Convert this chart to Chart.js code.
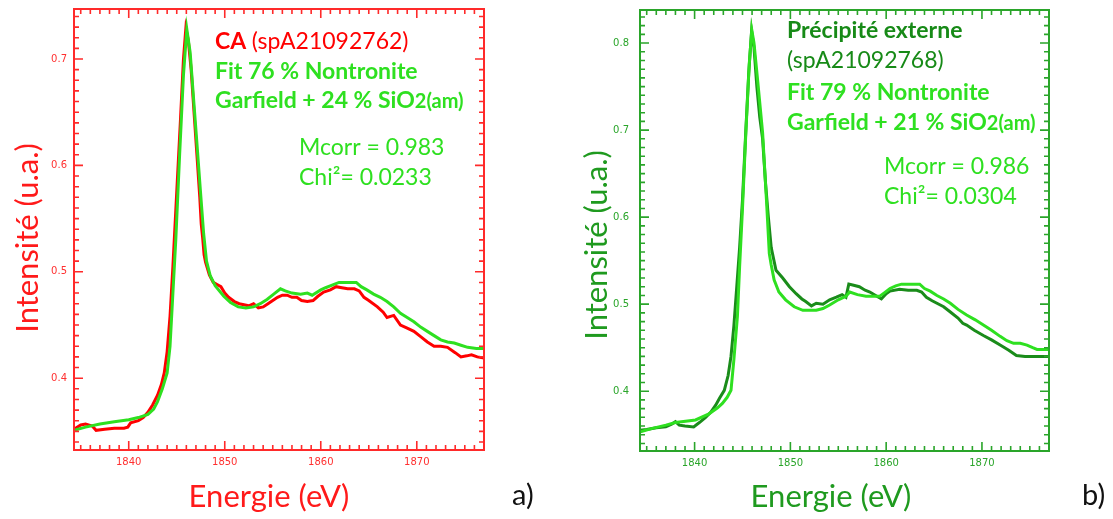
<!DOCTYPE html>
<html lang="fr">
<head>
<meta charset="UTF-8">
<title>Spectres S K-edge - CA et precipite externe</title>
<script src="https://cdn.jsdelivr.net/npm/chart.js@4.4.1/dist/chart.umd.min.js"></script>
<style>
  body { margin: 0; background: #fff; width: 1113px; height: 519px; position: relative; overflow: hidden; }
  canvas { position: absolute; top: 0; }
  #chartA { left: 0; }
  #chartB { left: 556px; }
  .tag { position: absolute; top: 476px; font: 29px Lato, sans-serif; color: #111; }
</style>
</head>
<body>
<canvas id="chartA" width="556" height="519"></canvas>
<canvas id="chartB" width="557" height="519"></canvas>
<div class="tag" style="left:512px">a)</div>
<div class="tag" style="left:1082px">b)</div>

<script>
// ---- data ----
// a) CA spA21092762 : measured spectrum
const caEnergy = [1834.3, 1835.0, 1835.5, 1836.2, 1836.6, 1837.5, 1838.5, 1839.5, 1839.9, 1840.2,
  1841.0, 1841.5, 1842.0, 1842.5, 1843.0, 1843.4, 1843.7, 1844.0, 1844.3, 1844.6,
  1845.0, 1845.4, 1845.7, 1845.95, 1846.2, 1846.5, 1846.8, 1847.1, 1847.4, 1847.55,
  1847.7, 1847.85, 1848.0, 1848.4, 1848.8, 1849.2, 1849.6, 1850.0, 1850.4, 1851.0, 1851.5,
  1852.0, 1852.5, 1853.0, 1853.5, 1854.0, 1854.5, 1855.0, 1855.5, 1856.0, 1856.5,
  1857.0, 1857.5, 1858.0, 1858.6, 1859.2, 1859.7, 1860.3, 1861.0, 1861.6, 1862.2,
  1862.8, 1863.5, 1864.0, 1864.5, 1865.0, 1865.9, 1866.5, 1866.9, 1867.6, 1868.3,
  1869.0, 1869.7, 1870.4, 1871.1, 1871.8, 1872.5, 1873.2, 1874.0, 1874.6, 1875.2,
  1875.7, 1876.3, 1877.0];
const caIntensity = [0.352, 0.356, 0.357, 0.355, 0.351, 0.352, 0.353, 0.353, 0.354, 0.358,
  0.360, 0.363, 0.368, 0.375, 0.384, 0.394, 0.405, 0.425, 0.458, 0.505,
  0.575, 0.645, 0.700, 0.729, 0.718, 0.690, 0.650, 0.610, 0.570, 0.545,
  0.532, 0.516, 0.509, 0.497, 0.490, 0.488, 0.486, 0.480, 0.476, 0.472, 0.470,
  0.469, 0.468, 0.470, 0.466, 0.467, 0.470, 0.473, 0.476, 0.478, 0.478,
  0.476, 0.476, 0.473, 0.472, 0.473, 0.477, 0.481, 0.483, 0.486, 0.485,
  0.484, 0.484, 0.482, 0.476, 0.473, 0.467, 0.462, 0.457, 0.459, 0.450,
  0.447, 0.444, 0.439, 0.434, 0.430, 0.430, 0.429, 0.424, 0.420, 0.421,
  0.422, 0.420, 0.419];

// a) fit 76 % nontronite Garfield + 24 % SiO2(am)
const caFitEnergy = [1834.3, 1835.5, 1837.0, 1838.5, 1840.0, 1841.0, 1842.0, 1842.6, 1843.0, 1843.5,
  1844.0, 1844.3, 1844.6, 1844.9, 1845.3, 1845.7, 1846.05, 1846.4, 1846.75, 1847.1,
  1847.45, 1847.8, 1848.1, 1848.5, 1849.0, 1849.9, 1850.6, 1851.4, 1852.2, 1853.0,
  1853.7, 1854.4, 1855.1, 1855.8, 1856.3, 1857.0, 1857.9, 1858.6, 1859.1, 1860.0,
  1860.5, 1861.05, 1861.9, 1862.8, 1863.7, 1864.2, 1864.8, 1865.5, 1866.2, 1866.9,
  1867.6, 1868.3, 1869.0, 1869.7, 1870.4, 1871.1, 1871.8, 1872.5, 1873.2, 1873.9,
  1874.6, 1875.3, 1876.2, 1877.0];
const caFitIntensity = [0.351, 0.354, 0.357, 0.359, 0.361, 0.363, 0.366, 0.371, 0.378, 0.390,
  0.405, 0.430, 0.480, 0.530, 0.610, 0.685, 0.728, 0.706, 0.663, 0.621,
  0.578, 0.536, 0.510, 0.496, 0.487, 0.477, 0.471, 0.467, 0.466, 0.467,
  0.470, 0.474, 0.479, 0.484, 0.482, 0.480, 0.479, 0.480, 0.478, 0.483,
  0.485, 0.487, 0.490, 0.490, 0.490, 0.486, 0.483, 0.479, 0.476, 0.472,
  0.467, 0.461, 0.457, 0.453, 0.448, 0.444, 0.440, 0.436, 0.434, 0.433,
  0.431, 0.429, 0.428, 0.428];

// b) Precipite externe spA21092768 : measured spectrum
const peEnergy = [1834.2, 1835.0, 1836.0, 1837.0, 1837.6, 1838.0, 1838.4, 1839.0, 1839.9, 1840.5,
  1841.15, 1841.7, 1842.2, 1842.6, 1843.1, 1843.5, 1843.8, 1844.1, 1844.4, 1844.7,
  1845.0, 1845.35, 1845.65, 1845.95, 1846.2, 1846.5, 1846.8, 1847.1, 1847.4, 1847.7,
  1848.0, 1848.5, 1849.2, 1849.9, 1850.6, 1851.2, 1851.6, 1852.2, 1852.7, 1853.4,
  1854.1, 1854.8, 1855.4, 1855.8, 1856.1, 1856.5, 1857.2, 1857.8, 1858.3, 1858.9,
  1859.5, 1860.0, 1860.4, 1861.4, 1862.3, 1863.2, 1863.7, 1864.2, 1864.8, 1865.3,
  1866.0, 1866.7, 1867.5, 1868.0, 1868.4, 1869.2, 1870.15, 1871.0, 1871.9, 1872.8,
  1873.6, 1874.5, 1875.5, 1877.0];
const peIntensity = [0.355, 0.356, 0.358, 0.359, 0.362, 0.365, 0.361, 0.360, 0.359, 0.364,
  0.370, 0.376, 0.384, 0.392, 0.401, 0.418, 0.440, 0.475, 0.520, 0.565,
  0.620, 0.700, 0.765, 0.814, 0.795, 0.750, 0.715, 0.690, 0.640, 0.600,
  0.565, 0.539, 0.530, 0.520, 0.512, 0.506, 0.503, 0.498, 0.501, 0.500,
  0.505, 0.508, 0.511, 0.508, 0.523, 0.522, 0.520, 0.516, 0.514, 0.510,
  0.506, 0.512, 0.515, 0.517, 0.516, 0.516, 0.514, 0.508, 0.504, 0.501,
  0.497, 0.491, 0.484, 0.478, 0.476, 0.470, 0.464, 0.459, 0.453, 0.447,
  0.441, 0.440, 0.440, 0.440];

// b) fit 79 % nontronite Garfield + 21 % SiO2(am)
const peFitEnergy = [1834.2, 1835.5, 1837.0, 1838.0, 1840.1, 1841.5, 1842.4, 1842.9, 1843.4, 1843.8,
  1844.1, 1844.47, 1844.7, 1845.0, 1845.35, 1845.7, 1845.97, 1846.2, 1846.6, 1847.1,
  1847.5, 1847.8, 1848.0, 1848.3, 1848.8, 1849.5, 1850.4, 1851.3, 1852.7, 1853.4,
  1854.1, 1855.0, 1855.8, 1856.2, 1857.0, 1857.9, 1859.3, 1859.8, 1860.4, 1861.0,
  1861.6, 1863.5, 1864.0, 1864.6, 1865.3, 1866.0, 1866.7, 1867.5, 1868.4, 1869.3,
  1870.15, 1871.0, 1871.9, 1872.6, 1873.3, 1874.0, 1874.7, 1875.3, 1875.75, 1877.0];
const peFitIntensity = [0.353, 0.357, 0.361, 0.364, 0.367, 0.374, 0.381, 0.386, 0.393, 0.401,
  0.436, 0.486, 0.543, 0.610, 0.697, 0.775, 0.815, 0.800, 0.755, 0.697,
  0.620, 0.558, 0.545, 0.528, 0.514, 0.505, 0.497, 0.493, 0.493, 0.495,
  0.499, 0.505, 0.509, 0.514, 0.511, 0.509, 0.509, 0.513, 0.518, 0.521,
  0.523, 0.523, 0.518, 0.515, 0.510, 0.506, 0.501, 0.494, 0.4875, 0.482,
  0.476, 0.470, 0.463, 0.458, 0.455, 0.455, 0.453, 0.450, 0.448, 0.448];

// axis ranges and tick labels
const energyRange = [1834.3, 1877.0];
const energyTicks = [1840, 1850, 1860, 1870];
const rangeA = [0.3325, 0.747];
const ticksA = [0.4, 0.5, 0.6, 0.7];
const rangeB = [0.3313, 0.838];
const ticksB = [0.4, 0.5, 0.6, 0.7, 0.8];

const RED = '#ff0000';
const LIME = '#2ee020';
const DARK = '#1a8c1a';

function points(xs, ys) {
  return xs.map((x, i) => ({x: x, y: ys[i]}));
}

// IDL style box: frame on all four sides, ticks pointing inwards
const idlFrame = {
  id: 'idlFrame',
  afterDraw(chart, args, opts) {
    const {ctx, chartArea: a, scales: {x, y}} = chart;
    ctx.save();
    ctx.strokeStyle = opts.color;
    ctx.lineWidth = 2;
    ctx.strokeRect(a.left, a.top, a.right - a.left, a.bottom - a.top);
    ctx.lineWidth = 1.6;
    ctx.beginPath();
    for (let v = Math.ceil(x.min); v <= x.max; v++) {
      const px = x.getPixelForValue(v);
      const len = v % 10 === 0 ? 9 : 5;
      ctx.moveTo(px, a.bottom); ctx.lineTo(px, a.bottom - len);
      ctx.moveTo(px, a.top); ctx.lineTo(px, a.top + len);
    }
    for (let k = Math.ceil(y.min * 100); k <= y.max * 100; k++) {
      const py = y.getPixelForValue(k / 100);
      const len = k % 10 === 0 ? 9 : 5;
      ctx.moveTo(a.left, py); ctx.lineTo(a.left + len, py);
      ctx.moveTo(a.right, py); ctx.lineTo(a.right - len, py);
    }
    ctx.stroke();
    ctx.restore();
  }
};

// annotation text + axis titles
function makeNotes(lines, titles) {
  return {
    id: 'notes',
    afterDraw(chart) {
      const ctx = chart.ctx;
      ctx.save();
      ctx.textBaseline = 'alphabetic';
      lines.forEach(l => {
        let cx = l.x;
        l.runs.forEach(r => {
          ctx.font = r.font;
          ctx.fillStyle = r.color;
          ctx.fillText(r.text, cx, l.y);
          cx += ctx.measureText(r.text).width;
        });
      });
      ctx.font = titles.font;
      ctx.fillStyle = titles.color;
      ctx.textAlign = 'center';
      ctx.textBaseline = 'middle';
      ctx.fillText(titles.x, titles.xPos[0], titles.xPos[1]);
      ctx.translate(titles.yPos[0], titles.yPos[1]);
      ctx.rotate(-Math.PI / 2);
      ctx.fillText(titles.y, 0, 0);
      ctx.restore();
    }
  };
}

// no extra room for the end labels: the box must sit exactly where the layout padding puts it
function noPad(s) {
  s.paddingTop = 0; s.paddingBottom = 0; s.paddingLeft = 0; s.paddingRight = 0;
}

function scalesFor(yRange, yTicks, color, yWidth, xHeight, yPad) {
  return {
    x: {
      type: 'linear', min: energyRange[0], max: energyRange[1],
      afterBuildTicks: s => { s.ticks = energyTicks.map(v => ({value: v})); },
      afterFit: s => { s.height = xHeight; noPad(s); },
      grid: {display: false, drawTicks: false}, border: {display: false},
      ticks: {color: color, padding: 6, maxRotation: 0, font: {family: 'DejaVu Sans', size: 10},
              callback: v => String(v)}
    },
    y: {
      type: 'linear', min: yRange[0], max: yRange[1],
      afterBuildTicks: s => { s.ticks = yTicks.map(v => ({value: v})); },
      afterFit: s => { s.width = yWidth; noPad(s); },
      grid: {display: false, drawTicks: false}, border: {display: false},
      ticks: {color: color, padding: yPad, font: {family: 'DejaVu Sans', size: 10},
              callback: v => v.toFixed(1)}
    }
  };
}

const B = 'bold 23px Lato, sans-serif';
const R = '23px Lato, sans-serif';
const S = 'bold 20px Lato, sans-serif';
const T = '31px Lato, sans-serif';

new Chart(document.getElementById('chartA'), {
  type: 'line',
  data: {
    datasets: [
      {label: 'Fit', data: points(caFitEnergy, caFitIntensity), borderColor: LIME, borderWidth: 3},
      {label: 'CA', data: points(caEnergy, caIntensity), borderColor: RED, borderWidth: 3}
    ]
  },
  options: {
    responsive: false, animation: false, events: [],
    elements: {point: {radius: 0}, line: {tension: 0}},
    layout: {padding: {left: 0, top: 9, right: 72, bottom: 0}},
    scales: scalesFor(rangeA, ticksA, '#ff3030', 74, 69, 7),
    plugins: {legend: {display: false}, tooltip: {enabled: false}, idlFrame: {color: '#ff2a2a'}}
  },
  plugins: [idlFrame, makeNotes([
    {x: 215, y: 49, runs: [{text: 'CA ', font: B, color: RED}, {text: '(spA21092762)', font: R, color: RED}]},
    {x: 215, y: 79, runs: [{text: 'Fit 76 % Nontronite', font: B, color: LIME}]},
    {x: 215, y: 108, runs: [{text: 'Garfield + 24 % SiO', font: B, color: LIME}, {text: '2(am)', font: S, color: LIME}]},
    {x: 299, y: 155, runs: [{text: 'Mcorr = 0.983', font: R, color: LIME}]},
    {x: 299, y: 185, runs: [{text: 'Chi\u00b2= 0.0233', font: R, color: LIME}]}
  ], {x: 'Energie (eV)', y: 'Intensité (u.a.)', font: T, color: '#ff1a1a',
      xPos: [269, 497], yPos: [28, 238]})]
});

new Chart(document.getElementById('chartB'), {
  type: 'line',
  data: {
    datasets: [
      {label: 'Fit', data: points(peFitEnergy, peFitIntensity), borderColor: LIME, borderWidth: 3},
      {label: 'Précipité externe', data: points(peEnergy, peIntensity), borderColor: DARK, borderWidth: 3}
    ]
  },
  options: {
    responsive: false, animation: false, events: [],
    elements: {point: {radius: 0}, line: {tension: 0}},
    layout: {padding: {left: 0, top: 10, right: 64, bottom: 0}},
    scales: scalesFor(rangeB, ticksB, '#2aa52a', 84, 68, 11),
    plugins: {legend: {display: false}, tooltip: {enabled: false}, idlFrame: {color: '#2aa52a'}}
  },
  plugins: [idlFrame, makeNotes([
    {x: 231, y: 38, runs: [{text: 'Précipité externe', font: B, color: '#178a17'}]},
    {x: 231, y: 68, runs: [{text: '(spA21092768)', font: R, color: '#178a17'}]},
    {x: 231, y: 100, runs: [{text: 'Fit 79 % Nontronite', font: B, color: LIME}]},
    {x: 231, y: 130, runs: [{text: 'Garfield + 21 % SiO', font: B, color: LIME}, {text: '2(am)', font: S, color: LIME}]},
    {x: 328, y: 174, runs: [{text: 'Mcorr = 0.986', font: R, color: LIME}]},
    {x: 328, y: 204, runs: [{text: 'Chi\u00b2= 0.0304', font: R, color: LIME}]}
  ], {x: 'Energie (eV)', y: 'Intensité (u.a.)', font: T, color: '#1f9a1f',
      xPos: [275, 497], yPos: [41, 245]})]
});
</script>
</body>
</html>
